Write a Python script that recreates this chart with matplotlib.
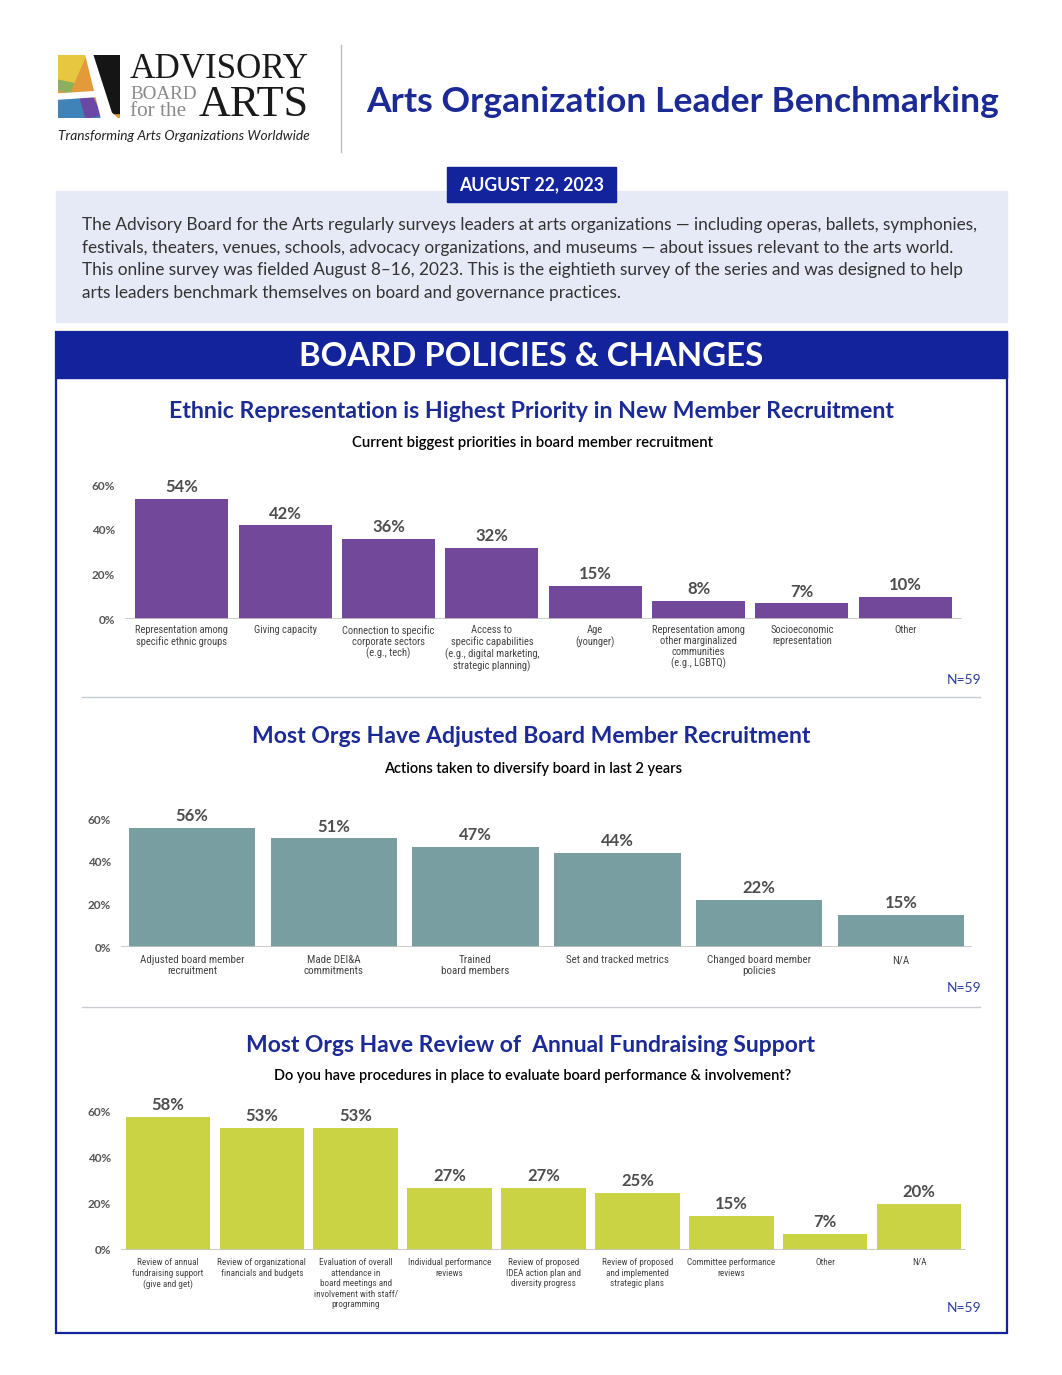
import matplotlib
matplotlib.use('Agg')
import matplotlib.pyplot as plt
from matplotlib.patches import Rectangle, Polygon
import matplotlib.font_manager as fm

W, H = 1062, 1375
DPI = 100

# ---------------- data ----------------
c1_title = "Ethnic Representation is Highest Priority in New Member Recruitment"
c1_sub = "Current biggest priorities in board member recruitment"
c1_cats = ["Representation among\nspecific ethnic groups", "Giving capacity",
           "Connection to specific\ncorporate sectors\n(e.g., tech)",
           "Access to\nspecific capabilities\n(e.g., digital marketing,\nstrategic planning)",
           "Age\n(younger)", "Representation among\nother marginalized\ncommunities\n(e.g., LGBTQ)",
           "Socioeconomic\nrepresentation", "Other"]
c1_vals = [54, 42, 36, 32, 15, 8, 7, 10]

c2_title = "Most Orgs Have Adjusted Board Member Recruitment"
c2_sub = "Actions taken to diversify board in last 2 years"
c2_cats = ["Adjusted board member\nrecruitment", "Made DEI&A\ncommitments", "Trained\nboard members",
           "Set and tracked metrics", "Changed board member\npolicies", "N/A"]
c2_vals = [56, 51, 47, 44, 22, 15]

c3_title = "Most Orgs Have Review of  Annual Fundraising Support"
c3_sub = "Do you have procedures in place to evaluate board performance & involvement?"
c3_cats = ["Review of annual\nfundraising support\n(give and get)", "Review of organizational\nfinancials and budgets",
           "Evaluation of overall\nattendance in\nboard meetings and\ninvolvement with staff/\nprogramming",
           "Individual performance\nreviews", "Review of proposed\nIDEA action plan and\ndiversity progress",
           "Review of proposed\nand implemented\nstrategic plans", "Committee performance\nreviews", "Other", "N/A"]
c3_vals = [58, 53, 53, 27, 27, 25, 15, 7, 20]

yticks = [0, 20, 40, 60]
ytick_labels = ["0%", "20%", "40%", "60%"]
n_label = "N=59"

main_title = "Arts Organization Leader Benchmarking"
date_label = "AUGUST 22, 2023"
section_title = "BOARD POLICIES & CHANGES"
intro_lines = [
    "The Advisory Board for the Arts regularly surveys leaders at arts organizations \u2014 including operas, ballets, symphonies,",
    "festivals, theaters, venues, schools, advocacy organizations, and museums \u2014 about issues relevant to the arts world.",
    "This online survey was fielded August 8\u201316, 2023. This is the eightieth survey of the series and was designed to help",
    "arts leaders benchmark themselves on board and governance practices.",
]

# ---------------- style ----------------
NAVY = "#13239b"
TITLE_BLUE = "#1b2a94"
PURPLE = "#72489b"
TEAL = "#799ea2"
LIME = "#c9d343"
GRAY_TXT = "#4d4d4d"
SANS = "Lato"
avail = {f.name for f in fm.fontManager.ttflist}
NARROW = "Liberation Sans Narrow" if "Liberation Sans Narrow" in avail else ("Roboto Condensed" if "Roboto Condensed" in avail else "Liberation Sans")
SERIF = "Liberation Serif" if "Liberation Serif" in avail else "DejaVu Serif"

fig = plt.figure(figsize=(W / DPI, H / DPI), dpi=DPI)
cv = fig.add_axes([0, 0, 1, 1])
cv.set_xlim(0, W)
cv.set_ylim(H, 0)
cv.axis('off')
renderer = fig.canvas.get_renderer()


def measure(s, size, family=SANS, weight='normal', style='normal'):
    t = cv.text(0, 0, s, fontsize=size, family=family, weight=weight, style=style)
    w = t.get_window_extent(renderer).width
    t.remove()
    return w


def fit_text(x, y, s, width, size=12, ha='left', va='center', family=SANS, weight='normal', style='normal',
             color='black', **kw):
    w = measure(s, size, family, weight, style)
    fs = size * width / w
    return cv.text(x, y, s, fontsize=fs, ha=ha, va=va, family=family, weight=weight,
                   style=style, color=color, **kw)


def px_rect(l, t, w, h):
    return [l / W, 1 - (t + h) / H, w / W, h / H]


# ---------------- header ----------------
# logo mark
lg = fig.add_axes(px_rect(58, 55, 62, 63))
lg.set_xlim(0, 1); lg.set_ylim(0, 1); lg.axis('off')
lg.add_patch(Rectangle((0, 0), 1, 1, color="#e39a3b"))
lg.add_patch(Polygon([(0, 1), (0.45, 1), (0.25, 0.55), (0, 0.6)], color="#e7c740"))
lg.add_patch(Polygon([(0, 0.6), (0.25, 0.55), (0.2, 0.4), (0, 0.45)], color="#8fb05a"))
lg.add_patch(Polygon([(0, 0), (0, 0.35), (0.5, 0.35), (0.75, 0)], color="#3f83b8"))
lg.add_patch(Polygon([(0.35, 0.35), (0.55, 0.35), (0.7, 0.05), (0.45, 0.0)], color="#6b48a3"))
lg.add_patch(Polygon([(0.55, 1), (1, 1), (1, 0.08), (0.85, 0.08)], color="#151515"))
lg.add_patch(Polygon([(0.45, 1), (0.56, 1), (0.86, 0.08), (0.95, 0.0), (0.7, 0.0)], color="white"))
lg.add_patch(Polygon([(0.0, 0.38), (0.62, 0.42), (0.6, 0.34), (0.0, 0.3)], color="white"))

fit_text(130, 78, "ADVISORY", 179, size=22, va='baseline', family=SERIF, color="#1a1a1a")
fit_text(130, 99, "BOARD", 66, size=12, va='baseline', family=SERIF, color="#8a8a8a")
fit_text(130, 116, "for the", 56, size=12, va='baseline', family=SERIF, color="#8a8a8a")
fit_text(199, 116, "ARTS", 110, size=28, va='baseline', family=SERIF, color="#1a1a1a")
fit_text(58, 136, "Transforming Arts Organizations Worldwide", 253, size=10, style='italic', color="#222222")
cv.plot([341, 341], [45, 152], color="#bdbdbd", lw=1)

fit_text(366, 102, main_title, 632, size=28, weight='bold', color=TITLE_BLUE)

# intro box
cv.add_patch(Rectangle((56, 191), 951, 131, color="#e6e9f6", zorder=1))
cv.add_patch(Rectangle((447, 167), 169, 35, color=NAVY, zorder=2))
fit_text(531.5, 185, date_label, 145, size=12, ha='center', weight='bold', color='white', zorder=3)

w0 = measure(intro_lines[0], 12)
para_fs = 12 * 895 / w0
for i, line in enumerate(intro_lines):
    cv.text(82, 225 + i * 22.7, line, fontsize=para_fs, family=SANS, color="#333333", va='center', zorder=3)

# section
cv.add_patch(Rectangle((56, 332), 951, 1001, fill=False, edgecolor=NAVY, lw=1.6, zorder=2))
cv.add_patch(Rectangle((56, 332), 951, 46, color=NAVY, zorder=2))
fit_text(531.5, 356, section_title, 465, size=22, ha='center', weight='bold', color='white', zorder=3)

for y in (697, 1007):
    cv.plot([82, 980], [y, y], color="#c9cdd2", lw=1)

# ---------------- charts ----------------
charts = [
    dict(title=c1_title, sub=c1_sub, cats=c1_cats, vals=c1_vals, color=PURPLE,
         title_y=411, title_w=727, sub_y=443, sub_w=360,
         left=125, right=962, base=619, k=2.23, xlim=(-0.55, 7.55), bw=0.9,
         ref="Representation among", ref_w=94, n_y=680, lab_pad=6, ls=1.12),
    dict(title=c2_title, sub=c2_sub, cats=c2_cats, vals=c2_vals, color=TEAL,
         title_y=736, title_w=560, sub_y=769, sub_w=298,
         left=121, right=972, base=947, k=2.13, xlim=(-0.5, 5.5), bw=0.89,
         ref="Adjusted board member", ref_w=104, n_y=988, lab_pad=8, ls=1.08),
    dict(title=c3_title, sub=c3_sub, cats=c3_cats, vals=c3_vals, color=LIME,
         title_y=1045, title_w=571, sub_y=1076, sub_w=516,
         left=121, right=966, base=1250, k=2.3, xlim=(-0.5, 8.5), bw=0.9,
         ref="Review of organizational", ref_w=89, n_y=1308, lab_pad=8, ls=1.22),
]

for c in charts:
    fit_text(531, c['title_y'], c['title'], c['title_w'], size=18, ha='center', weight='bold', color=TITLE_BLUE)
    fit_text(533, c['sub_y'], c['sub'], c['sub_w'], size=11, ha='center', weight='semibold', color='black')

    top = 64
    hpx = top * c['k']
    ax = fig.add_axes(px_rect(c['left'], c['base'] - hpx, c['right'] - c['left'], hpx))
    ax.set_facecolor('none')
    n = len(c['vals'])
    xs = list(range(n))
    ax.bar(xs, c['vals'], width=c['bw'], color=c['color'], zorder=2)
    ax.set_xlim(*c['xlim'])
    ax.set_ylim(0, top)
    for s in ax.spines.values():
        s.set_visible(False)
    ax.axhline(0, color="#c4c4c4", lw=1.2, zorder=3)
    ax.set_yticks(yticks)
    ax.set_yticklabels(ytick_labels, fontsize=8.5, family=SANS, weight='bold', color="#555555")
    cat_fs = 8 * c['ref_w'] / measure(c['ref'], 8, family=NARROW)
    ax.set_xticks(xs)
    ax.set_xticklabels(c['cats'], fontsize=cat_fs, family=NARROW, color="#444444", linespacing=c['ls'], va='top')
    ax.tick_params(axis='both', length=0)
    ax.tick_params(axis='y', pad=7)
    ax.tick_params(axis='x', pad=c['lab_pad'] * 0.72)
    for x, v in zip(xs, c['vals']):
        ax.annotate(f"{v}%", (x, v), xytext=(0, 8.5), textcoords='offset points', ha='center', va='center',
                    fontsize=12, family=SANS, weight='bold', color=GRAY_TXT)
    cv.text(964, c['n_y'], n_label, fontsize=10, family=SANS, color="#2a3aa0", ha='center', va='center')

fig.savefig("out.png", dpi=DPI, facecolor='white')
